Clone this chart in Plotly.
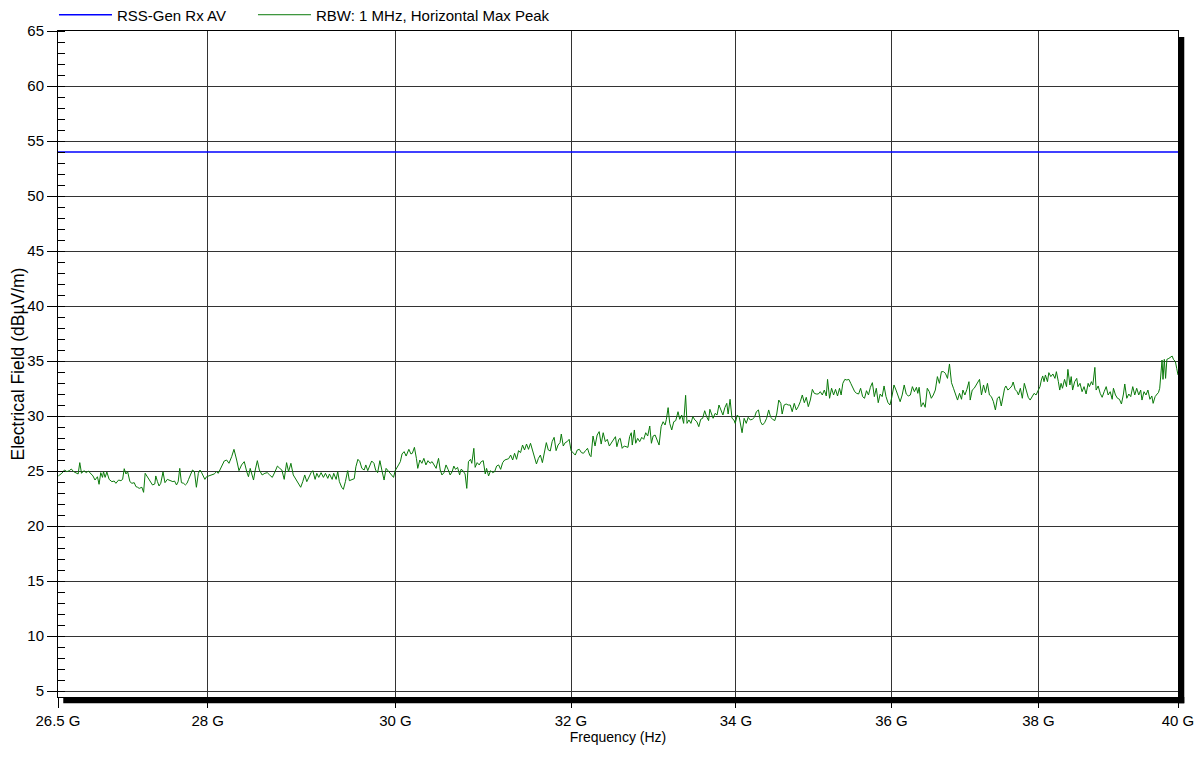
import numpy as np
import plotly.graph_objects as go

# limit line
limit_name = "RSS-Gen Rx AV"
limit_level = 54.0
limit_span_ghz = [26.5, 40.0]

trace_name = "RBW: 1 MHz, Horizontal Max Peak"

freq_a = [26.503, 26.537, 26.563, 26.587, 26.610, 26.630, 26.653, 26.677, 26.697, 26.713,
          26.730, 26.753, 26.777, 26.797, 26.820, 26.843, 26.863, 26.887, 26.903, 26.920,
          26.937, 26.947, 26.963, 26.980, 27.003, 27.030, 27.053, 27.070, 27.097, 27.120,
          27.137, 27.153, 27.170, 27.187, 27.210, 27.230, 27.253, 27.270, 27.287, 27.303,
          27.330, 27.347, 27.363, 27.387, 27.410, 27.437, 27.460, 27.470, 27.487, 27.503,
          27.520, 27.543, 27.563, 27.587, 27.603, 27.620, 27.643, 27.660, 27.680, 27.697,
          27.713, 27.730, 27.753, 27.770, 27.787, 27.803, 27.820, 27.843, 27.863, 27.883,
          27.903, 27.920, 27.937, 27.953, 27.970, 27.987, 28.010, 28.038, 28.066, 28.090,
          28.108, 28.125, 28.143, 28.170, 28.195, 28.219, 28.247, 28.271, 28.299, 28.323,
          28.350, 28.378]
level_a = [24.55, 24.79, 25.09, 24.94, 25.03, 25.18, 24.94, 24.85, 24.73, 25.76,
           24.79, 25.03, 24.85, 25.00, 24.79, 24.55, 24.18, 24.48, 23.79, 24.85,
           24.42, 24.94, 24.42, 24.91, 24.24, 24.03, 24.09, 23.88, 24.18, 24.12,
           24.24, 25.21, 24.73, 24.94, 24.03, 23.88, 23.94, 23.58, 23.52, 23.42,
           23.52, 23.06, 24.79, 24.48, 24.18, 23.73, 23.82, 24.55, 24.03, 23.64,
           23.88, 24.91, 23.94, 24.24, 24.18, 24.12, 24.03, 24.09, 23.73, 24.03,
           25.24, 23.94, 23.88, 23.73, 23.88, 24.24, 24.64, 25.09, 24.94, 23.52,
           24.79, 25.09, 24.85, 24.55, 24.24, 24.48, 24.55, 24.64, 24.73, 24.94,
           24.79, 25.09, 25.39, 25.91, 26.00, 25.70, 26.30, 26.97, 26.00, 25.03,
           25.55, 25.85]

freq_b = [28.404, 28.422, 28.440, 28.458, 28.475, 28.493, 28.515, 28.536, 28.565, 28.594,
          28.619, 28.644, 28.672, 28.701, 28.726, 28.751, 28.773, 28.798, 28.823, 28.844,
          28.869, 28.894, 28.923, 28.952, 28.973, 28.995, 29.016, 29.038, 29.066, 29.084,
          29.102, 29.127, 29.145, 29.166, 29.191, 29.216, 29.238, 29.263, 29.281, 29.310,
          29.327, 29.353, 29.370, 29.388, 29.413, 29.431, 29.453, 29.478, 29.496, 29.524,
          29.549, 29.567, 29.589, 29.610, 29.632, 29.657, 29.675, 29.696, 29.718, 29.739,
          29.764, 29.782, 29.804, 29.829, 29.854, 29.875, 29.897, 29.925, 29.954, 29.979,
          29.997, 30.016, 30.034, 30.054, 30.073, 30.096, 30.118, 30.148, 30.171, 30.187,
          30.210, 30.232, 30.247, 30.270, 30.293, 30.315, 30.338, 30.361, 30.384, 30.407,
          30.429, 30.452]
level_b = [24.94, 24.48, 25.24, 24.79, 24.18, 25.09, 25.94, 25.09, 24.64, 24.79,
           24.85, 24.64, 24.42, 24.94, 25.45, 25.24, 25.09, 24.24, 25.76, 24.94,
           25.70, 24.64, 24.18, 23.73, 23.52, 24.03, 24.64, 24.03, 24.64, 24.85,
           25.03, 24.24, 24.79, 24.42, 24.85, 24.42, 24.79, 24.33, 24.73, 24.24,
           24.79, 24.24, 24.94, 24.03, 23.52, 23.33, 24.03, 25.03, 24.12, 24.18,
           24.30, 25.39, 26.06, 25.85, 25.24, 25.09, 25.55, 25.03, 25.55, 25.91,
           25.70, 25.09, 24.85, 25.94, 24.94, 24.18, 25.24, 24.94, 24.64, 24.42,
           25.03, 25.24, 25.55, 25.85, 26.55, 26.76, 26.36, 26.97, 26.55, 26.61,
           27.15, 26.15, 25.24, 26.00, 25.70, 26.15, 25.55, 25.94, 25.70, 25.85,
           25.55, 25.24]

freq_c = [30.460, 30.479, 30.498, 30.517, 30.540, 30.563, 30.586, 30.609, 30.632, 30.651,
          30.670, 30.693, 30.716, 30.732, 30.747, 30.766, 30.778, 30.797, 30.816, 30.839,
          30.854, 30.877, 30.892, 30.915, 30.938, 30.961, 30.984, 31.007, 31.022, 31.045,
          31.068, 31.091, 31.114, 31.137, 31.160, 31.183, 31.206, 31.229, 31.252, 31.275,
          31.298, 31.321, 31.343, 31.366, 31.389, 31.412, 31.435, 31.458, 31.481, 31.504,
          31.527, 31.550, 31.573, 31.596, 31.619, 31.642, 31.665, 31.688, 31.711, 31.734,
          31.757, 31.779, 31.802, 31.825, 31.848, 31.871, 31.886, 31.909, 31.932, 31.955,
          31.978, 32.001, 32.025, 32.050, 32.074, 32.098, 32.123, 32.147, 32.171, 32.195,
          32.220, 32.236, 32.260, 32.284, 32.309, 32.333, 32.357, 32.381, 32.406, 32.430,
          32.454, 32.478, 32.503, 32.527, 32.544, 32.568, 32.584, 32.608, 32.632, 32.657]
level_c = [25.55, 26.15, 25.09, 24.64, 24.85, 25.55, 25.15, 24.64, 24.94, 25.45,
           25.15, 25.33, 24.64, 25.15, 25.09, 24.85, 24.73, 23.42, 25.85, 26.06,
           25.70, 27.06, 25.33, 25.76, 25.55, 25.85, 25.94, 24.73, 25.24, 24.55,
           25.03, 24.85, 24.94, 25.45, 25.55, 25.15, 25.76, 26.00, 26.06, 26.12,
           26.45, 26.00, 26.61, 26.06, 26.85, 26.67, 27.36, 26.91, 27.45, 26.97,
           27.52, 26.91, 26.30, 25.64, 26.15, 26.45, 25.76, 26.61, 27.58, 26.91,
           26.82, 27.67, 28.06, 26.85, 27.36, 27.58, 28.36, 27.27, 27.58, 27.67,
           27.88, 26.85, 26.67, 26.45, 26.91, 26.97, 26.67, 26.61, 26.85, 27.06,
           26.45, 26.30, 28.18, 27.27, 28.27, 28.58, 27.45, 28.48, 27.67, 27.88,
           27.27, 27.52, 27.76, 28.12, 27.21, 27.88, 27.97, 27.06, 27.27, 27.21]

freq_d = [32.677, 32.697, 32.717, 32.729, 32.754, 32.770, 32.794, 32.818, 32.843, 32.867,
          32.891, 32.915, 32.940, 32.960, 32.981, 33.005, 33.029, 33.053, 33.078, 33.102,
          33.126, 33.142, 33.163, 33.183, 33.207, 33.232, 33.256, 33.284, 33.305, 33.329,
          33.353, 33.377, 33.394, 33.418, 33.442, 33.466, 33.491, 33.515, 33.539, 33.563,
          33.587, 33.612, 33.636, 33.660, 33.676, 33.692, 33.716, 33.741, 33.765, 33.789,
          33.813, 33.838, 33.862, 33.886, 33.903, 33.927, 33.951, 33.975, 33.991, 34.017,
          34.042, 34.059, 34.077, 34.103, 34.129, 34.154, 34.180, 34.206, 34.232, 34.257,
          34.283, 34.309, 34.334, 34.360, 34.386, 34.412, 34.437, 34.463, 34.489, 34.514,
          34.540, 34.566, 34.583, 34.608, 34.634, 34.660, 34.686, 34.711, 34.737, 34.763,
          34.788, 34.814, 34.840, 34.866, 34.891, 34.917, 34.943, 34.969, 34.994, 35.020]
level_d = [27.15, 28.12, 28.48, 27.36, 28.73, 27.52, 27.97, 27.67, 28.06, 27.88,
           28.48, 28.18, 29.09, 27.52, 28.18, 28.27, 27.82, 27.36, 29.03, 29.48,
           29.18, 29.70, 30.76, 29.33, 28.73, 29.48, 29.58, 30.39, 29.70, 30.09,
           29.33, 31.88, 29.33, 29.64, 29.33, 29.94, 29.64, 29.48, 29.03, 29.70,
           29.79, 30.48, 29.94, 29.58, 30.61, 30.24, 29.79, 30.24, 30.09, 31.00,
           30.55, 30.09, 30.76, 31.15, 30.18, 31.52, 29.79, 29.64, 29.33, 30.09,
           29.88, 29.09, 28.48, 29.79, 29.33, 29.88, 29.64, 29.70, 29.88, 30.39,
           30.55, 29.48, 29.18, 29.39, 29.79, 30.55, 29.88, 29.70, 29.58, 30.18,
           31.45, 31.15, 30.18, 31.00, 31.09, 31.00, 31.00, 30.39, 31.15, 30.55,
           30.85, 31.30, 31.91, 31.21, 31.70, 30.85, 31.45, 32.42, 32.06, 32.00]

freq_e = [35.046, 35.071, 35.097, 35.123, 35.148, 35.165, 35.191, 35.217, 35.243, 35.268,
          35.294, 35.320, 35.341, 35.363, 35.389, 35.415, 35.441, 35.466, 35.492, 35.518,
          35.543, 35.569, 35.595, 35.621, 35.646, 35.672, 35.698, 35.723, 35.749, 35.775,
          35.801, 35.826, 35.852, 35.878, 35.903, 35.929, 35.955, 35.981, 36.007, 36.034,
          36.061, 36.088, 36.116, 36.143, 36.170, 36.197, 36.224, 36.252, 36.279, 36.306,
          36.333, 36.351, 36.369, 36.396, 36.423, 36.450, 36.478, 36.505, 36.532, 36.559,
          36.586, 36.614, 36.641, 36.668, 36.695, 36.722, 36.750, 36.777, 36.804, 36.831,
          36.858, 36.886, 36.913, 36.940, 36.959, 36.986, 37.013, 37.041, 37.058, 37.086,
          37.113, 37.140, 37.167, 37.185, 37.212, 37.240, 37.267, 37.294, 37.321, 37.348,
          37.376, 37.403, 37.430, 37.457, 37.484, 37.503, 37.530, 37.548]
level_e = [32.00, 32.21, 31.91, 32.36, 31.82, 33.33, 31.61, 32.52, 31.91, 32.42,
           31.82, 32.52, 31.91, 32.97, 33.33, 33.27, 33.33, 32.97, 32.52, 32.21,
           32.06, 32.00, 32.52, 31.76, 31.61, 32.30, 31.91, 32.61, 33.03, 31.76,
           32.52, 31.21, 32.00, 31.76, 32.73, 31.76, 31.21, 31.00, 31.76, 32.82,
           32.36, 31.91, 31.30, 31.91, 32.82, 32.00, 31.82, 31.91, 32.67, 32.21,
           32.61, 32.06, 32.61, 30.85, 31.21, 30.79, 32.52, 32.21, 31.61, 31.91,
           32.36, 33.58, 32.97, 34.03, 34.03, 33.88, 33.42, 34.73, 33.03, 32.52,
           31.91, 31.45, 32.06, 31.52, 32.36, 31.91, 32.42, 33.12, 31.45, 32.36,
           32.52, 32.82, 33.03, 33.33, 31.91, 32.82, 32.12, 32.97, 31.91, 31.76,
           31.30, 30.55, 31.61, 31.76, 30.91, 31.61, 32.52, 32.73]

freq_f = [37.575, 37.603, 37.630, 37.648, 37.675, 37.702, 37.721, 37.748, 37.775, 37.803,
          37.830, 37.857, 37.884, 37.911, 37.939, 37.966, 37.984, 38.021, 38.040, 38.059,
          38.078, 38.097, 38.126, 38.145, 38.173, 38.202, 38.231, 38.251, 38.279, 38.298,
          38.317, 38.337, 38.366, 38.394, 38.413, 38.442, 38.460, 38.480, 38.509, 38.538,
          38.556, 38.585, 38.614, 38.642, 38.671, 38.700, 38.718, 38.747, 38.767, 38.796,
          38.814, 38.843, 38.872, 38.900, 38.929, 38.958, 38.986, 39.015, 39.044, 39.062,
          39.091, 39.120, 39.148, 39.177, 39.206, 39.225, 39.254, 39.283, 39.311, 39.340,
          39.369, 39.397, 39.427, 39.455, 39.474, 39.503, 39.532, 39.560, 39.589, 39.617,
          39.636, 39.665, 39.694, 39.713, 39.732, 39.751, 39.766, 39.780, 39.799, 39.818,
          39.837, 39.866, 39.895, 39.914, 39.933, 39.962, 39.981, 40.000]
level_f = [32.36, 32.52, 32.73, 33.09, 32.42, 32.21, 31.91, 32.52, 31.61, 32.97,
           32.21, 31.70, 31.45, 31.70, 32.06, 31.91, 32.21, 32.67, 33.27, 33.64,
           33.12, 33.73, 33.12, 33.94, 33.58, 33.82, 33.42, 34.03, 33.12, 32.36,
           32.97, 32.52, 33.33, 32.67, 34.24, 32.82, 33.58, 32.36, 33.12, 33.42,
           32.67, 32.97, 32.21, 32.67, 32.00, 32.97, 32.67, 33.12, 32.82, 34.42,
           32.36, 32.73, 32.06, 31.70, 32.21, 32.67, 31.91, 32.21, 31.52, 32.52,
           31.91, 31.61, 31.52, 31.09, 32.00, 32.91, 31.61, 32.00, 31.76, 32.67,
           31.91, 32.52, 31.91, 32.36, 31.45, 32.21, 31.91, 32.36, 31.52, 31.82,
           31.15, 31.76, 32.00, 32.12, 32.52, 33.88, 35.09, 33.33, 35.15, 33.42,
           35.15, 35.24, 35.39, 35.45, 35.15, 34.94, 34.33, 33.73]

tick_ghz = [26.5, 28, 30, 32, 34, 36, 38, 40]
tick_text = ["26.5 G", "28 G", "30 G", "32 G", "34 G", "36 G", "38 G", "40 G"]

freq_ghz = freq_a + freq_b + freq_c + freq_d + freq_e + freq_f
level = level_a + level_b + level_c + level_d + level_e + level_f
freq_hz = np.array(freq_ghz) * 1e9

font_family = "Liberation Sans, Arial, sans-serif"
grid_col = "#333333"

fig = go.Figure()
fig.add_trace(go.Scatter(
    x=np.array(limit_span_ghz) * 1e9, y=[limit_level, limit_level],
    mode="lines", name=limit_name, legend="legend",
    line=dict(color="#0000ff", width=1.5)))
fig.add_trace(go.Scatter(
    x=freq_hz, y=level, mode="lines", name=trace_name, legend="legend2",
    line=dict(color="#0a7a0a", width=1)))

legend_style = dict(orientation="h", xanchor="left", yref="container", y=0.9909,
                    yanchor="middle", font=dict(size=15), itemwidth=53,
                    bgcolor="rgba(0,0,0,0)", borderwidth=0)

# the page body adds an 8px margin, so the figure is 8px smaller on each axis
fig.update_layout(
    width=1194, height=766,
    margin=dict(l=50, r=24, t=23, b=77, autoexpand=False),
    paper_bgcolor="white", plot_bgcolor="white",
    font=dict(family=font_family, size=15, color="black"),
    showlegend=True,
    legend=dict(x=-0.0036, **legend_style),
    legend2=dict(x=0.1741, **legend_style),
)

fig.update_xaxes(
    type="log",
    range=[np.log10(26.5e9), np.log10(40e9)],
    tickmode="array", tickvals=[t * 1e9 for t in tick_ghz], ticktext=tick_text,
    ticks="outside", ticklen=10, tickcolor="black", tickwidth=1,
    tickfont=dict(size=15),
    showgrid=True, gridcolor=grid_col, gridwidth=1,
    showline=True, linecolor="black", linewidth=1, mirror=True,
    zeroline=False, automargin=False,
    title=dict(text="Frequency (Hz)", standoff=0, font=dict(size=14)),
)
fig.update_yaxes(
    range=[4.455, 65],
    tick0=5, dtick=5,
    ticks="outside", ticklen=10, tickcolor="black", tickwidth=1,
    tickfont=dict(size=15),
    minor=dict(ticks="inside", ticklen=7, dtick=1, tickcolor="black", showgrid=False),
    showgrid=True, gridcolor=grid_col, gridwidth=1,
    showline=True, linecolor="black", linewidth=1, mirror=True,
    zeroline=False, automargin=False,
    title=dict(text="Electrical Field (dBµV/m)", standoff=8, font=dict(size=17.5)),
)

# drop shadow along the bottom and right edges of the plot box
fig.add_shape(type="rect", xref="paper", yref="paper",
              x0=0.0047, x1=1.0056, y0=-0.0095, y1=0.0,
              fillcolor="black", line_width=0, layer="above")
fig.add_shape(type="rect", xref="paper", yref="paper",
              x0=1.0, x1=1.0056, y0=-0.0095, y1=0.991,
              fillcolor="black", line_width=0, layer="above")

fig.write_html("out.html")
